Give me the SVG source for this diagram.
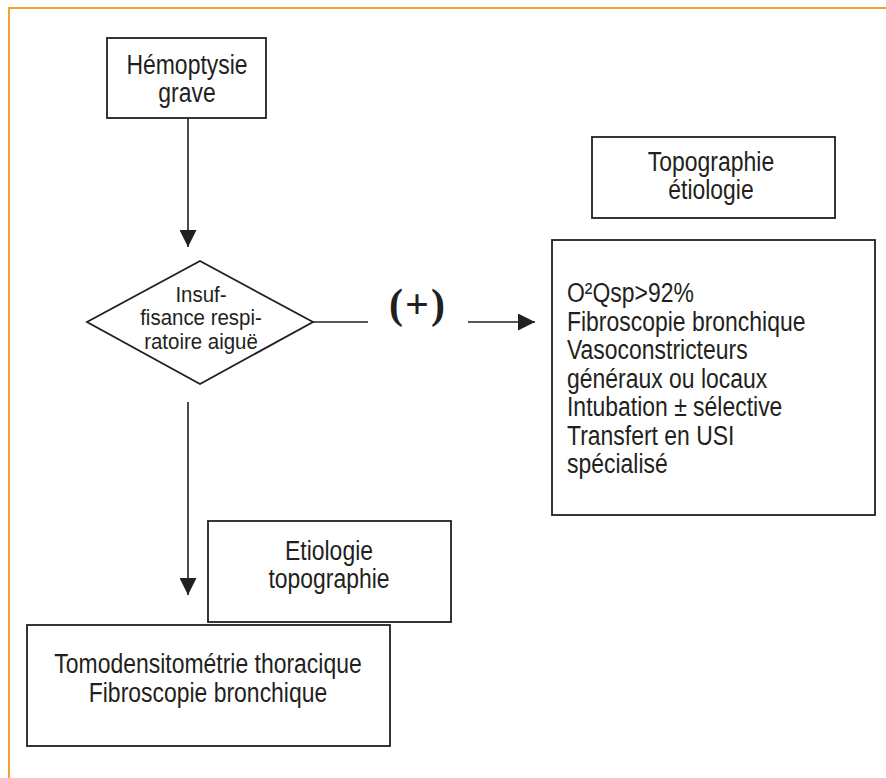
<svg xmlns="http://www.w3.org/2000/svg" width="886" height="778" viewBox="0 0 886 778">
<defs>
<style>
.box{fill:#fff;stroke:#231f20;stroke-width:1.8}
.ln{fill:none;stroke:#231f20;stroke-width:1.6}
.t{font-family:"Liberation Sans",Arial,sans-serif;font-size:27px;fill:#231f20}
.tc{text-anchor:middle}
.td{font-family:"Liberation Sans",Arial,sans-serif;font-size:22px;fill:#231f20;text-anchor:middle}
.plus{font-family:"Liberation Serif","Times New Roman",serif;font-size:42px;font-weight:bold;fill:#231f20;text-anchor:middle;letter-spacing:2px}
</style>
<marker id="ah" viewBox="0 0 17 17" refX="17" refY="8.5" markerWidth="17" markerHeight="17" markerUnits="userSpaceOnUse" orient="auto">
<path d="M0,0 L17,8.5 L0,17 Z" fill="#231f20"/>
</marker>
</defs>
<rect width="886" height="778" fill="#fff"/>
<g id="frame">
<path d="M886,8 H9 V778" fill="none" stroke="#f5a033" stroke-width="2"/>
</g>
<g id="connectors">
<line class="ln" x1="188" y1="118" x2="188" y2="247" marker-end="url(#ah)"/>
<line class="ln" x1="313" y1="322" x2="368" y2="322"/>
<line class="ln" x1="468" y1="322" x2="535" y2="322" marker-end="url(#ah)"/>
<line class="ln" x1="188" y1="402" x2="188" y2="595" marker-end="url(#ah)"/>
</g>
<g id="n-hemoptysie">
<rect class="box" x="107" y="38" width="159" height="80"/>
<text class="t tc" transform="translate(187,74) scale(0.85,1)">Hémoptysie</text>
<text class="t tc" transform="translate(187,102) scale(0.85,1)">grave</text>
</g>
<g id="n-insuffisance">
<polygon class="box" points="200,261 313,322 200,384 87,322"/>
<text class="td" transform="translate(201,301.5) scale(0.93,1)">Insuf-</text>
<text class="td" transform="translate(201,325) scale(0.93,1)">fisance respi-</text>
<text class="td" transform="translate(201,348.5) scale(0.93,1)">ratoire aiguë</text>
</g>
<g id="l-plus">
<text class="plus" x="418" y="318">(+)</text>
</g>
<g id="n-topographie">
<rect class="box" x="592" y="137" width="243" height="81"/>
<text class="t tc" transform="translate(711,171) scale(0.85,1)">Topographie</text>
<text class="t tc" transform="translate(711,199) scale(0.85,1)">étiologie</text>
</g>
<g id="n-traitement">
<rect class="box" x="552" y="240" width="323" height="275"/>
<text class="t" transform="translate(567,302) scale(0.85,1)">O²Qsp&gt;92%</text>
<text class="t" transform="translate(567,330.5) scale(0.85,1)">Fibroscopie bronchique</text>
<text class="t" transform="translate(567,359) scale(0.85,1)">Vasoconstricteurs</text>
<text class="t" transform="translate(567,387.5) scale(0.85,1)">généraux ou locaux</text>
<text class="t" transform="translate(567,416) scale(0.85,1)">Intubation ± sélective</text>
<text class="t" transform="translate(567,444.5) scale(0.85,1)">Transfert en USI</text>
<text class="t" transform="translate(567,473) scale(0.85,1)">spécialisé</text>
</g>
<g id="n-etiologie">
<rect class="box" x="208" y="521" width="243" height="101"/>
<text class="t tc" transform="translate(329,560) scale(0.85,1)">Etiologie</text>
<text class="t tc" transform="translate(329,588) scale(0.85,1)">topographie</text>
</g>
<g id="n-tomodensitometrie">
<rect class="box" x="27" y="625" width="363" height="121"/>
<text class="t tc" transform="translate(208,673) scale(0.85,1)">Tomodensitométrie thoracique</text>
<text class="t tc" transform="translate(208,702) scale(0.85,1)">Fibroscopie bronchique</text>
</g>
</svg>
